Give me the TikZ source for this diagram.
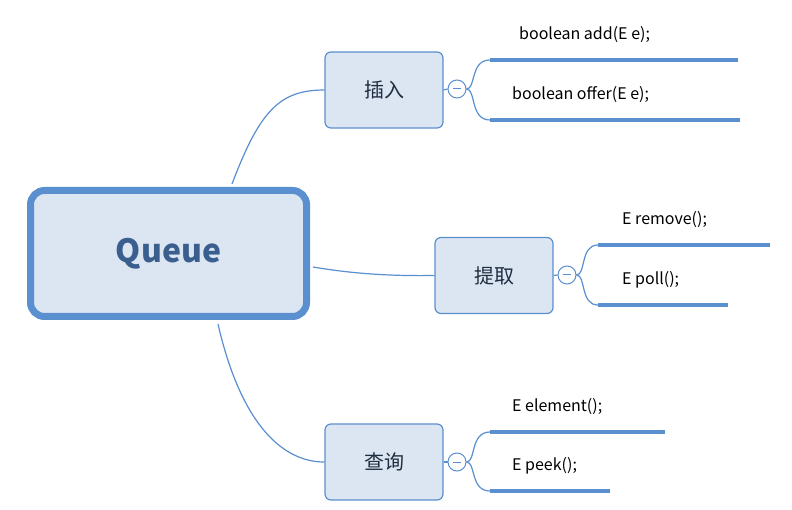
\documentclass[tikz,border=0pt]{standalone}
\usepackage{fontspec}
\setmainfont{Noto Sans CJK SC}
\begin{document}
\begin{tikzpicture}[x=1pt,y=-1pt,
  conn/.style={draw=linkc,line width=1.2pt},
  child/.style={draw=boxb,fill=boxf,line width=1.2pt,rounded corners=6pt,minimum width=118pt,minimum height=76pt,font=\fontsize{20}{24}\selectfont,text=txt},
  tog/.style={circle,draw=boxb,fill=white,line width=1pt,minimum size=18pt,inner sep=0pt},
  leaf/.style={font=\fontsize{16}{19}\selectfont,text=black,anchor=west,inner sep=0pt},
  uline/.style={draw=linkc,line width=4pt}]
\definecolor{linkc}{HTML}{5A8FD0}
\definecolor{boxb}{HTML}{5B8FCF}
\definecolor{boxf}{HTML}{DCE6F2}
\definecolor{txt}{HTML}{1F2D40}
\definecolor{rootc}{HTML}{3A5F8F}
\useasboundingbox (0,0) rectangle (792,510);
\fill[white] (0,0) rectangle (792,510);
% root
\node[draw=linkc,fill=boxf,line width=7pt,rounded corners=14pt,minimum width=276pt,minimum height=126pt,font=\fontsize{32}{38}\bfseries\selectfont,text=rootc] (root) at (168.5,253.5) {Queue};
% children
\node[child] (c1) at (384,90) {插入};
\node[child] (c2) at (494,275.5) {提取};
\node[child] (c3) at (384,462) {查询};
\draw[conn] (232,184) .. controls (260,110) and (280,90) .. (c1.west);
\draw[conn] (313,267) .. controls (360,275) and (400,276) .. (c2.west);
\draw[conn] (218,324) .. controls (240,420) and (280,462) .. (c3.west);
% toggles
\node[tog] (t1) at (457,89) {};
\node[tog] (t2) at (567,275) {};
\node[tog] (t3) at (457,462) {};
\foreach \t in {t1,t2,t3}{\draw[boxb,line width=1pt] ([xshift=-4pt]\t.center) -- ([xshift=4pt]\t.center);}
\draw[conn] (c1.east) -- (t1.west);
\draw[conn] (c2.east) -- (t2.west);
\draw[conn] (c3.east) -- (t3.west);
% leaf lines
\coordinate (a1) at (490,60); \coordinate (a1e) at (738,60);
\coordinate (a2) at (490,120); \coordinate (a2e) at (740,120);
\coordinate (b1) at (598,245); \coordinate (b1e) at (770,245);
\coordinate (b2) at (598,305); \coordinate (b2e) at (728,305);
\coordinate (d1) at (490,432); \coordinate (d1e) at (665,432);
\coordinate (d2) at (490,491); \coordinate (d2e) at (610,491);
\draw[conn] (t1.east) .. controls (476,89) and (470,60) .. (a1);
\draw[conn] (t1.east) .. controls (476,89) and (470,120) .. (a2);
\draw[conn] (t2.east) .. controls (586,275) and (580,245) .. (b1);
\draw[conn] (t2.east) .. controls (586,275) and (580,305) .. (b2);
\draw[conn] (t3.east) .. controls (476,462) and (470,432) .. (d1);
\draw[conn] (t3.east) .. controls (476,462) and (470,491) .. (d2);
\foreach \s/\e in {a1/a1e,a2/a2e,b1/b1e,b2/b2e,d1/d1e,d2/d2e}{\draw[uline] (\s) -- (\e);}
\node[leaf] (l1) at (519,35) {boolean add(E e);};
\node[leaf] (l2) at (512,95) {boolean offer(E e);};
\node[leaf] (l3) at (622,220) {E remove();};
\node[leaf] (l4) at (622,280) {E poll();};
\node[leaf] (l5) at (512,407) {E element();};
\node[leaf] (l6) at (512,466) {E peek();};
\end{tikzpicture}
\end{document}
